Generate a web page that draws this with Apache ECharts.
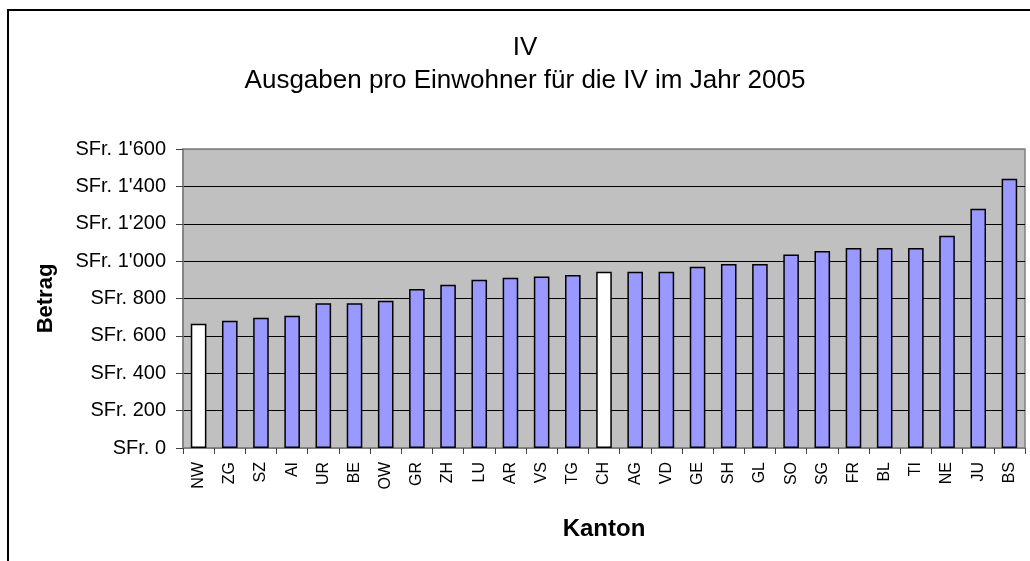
<!DOCTYPE html>
<html lang="de">
<head>
  <meta charset="UTF-8" />
  <title>IV Ausgaben pro Einwohner 2005</title>
  <script src="https://cdn.jsdelivr.net/npm/echarts@6/dist/echarts.min.js"></script>
  <style>
    html, body { margin: 0; padding: 0; background: #ffffff; }
    #main { width: 1030px; height: 561px; }
  </style>
</head>
<body>
  <div id="main"></div>
  <script>
    // Kantone, sortiert nach Ausgaben
    const cantons = ['NW', 'ZG', 'SZ', 'AI', 'UR', 'BE', 'OW', 'GR', 'ZH', 'LU', 'AR', 'VS', 'TG', 'CH',
      'AG', 'VD', 'GE', 'SH', 'GL', 'SO', 'SG', 'FR', 'BL', 'TI', 'NE', 'JU', 'BS'];
    const spending = [665, 681, 697, 708, 774, 774, 788, 851, 874, 900, 911, 918, 926, 943,
      943, 943, 970, 984, 984, 1036, 1054, 1070, 1070, 1070, 1136, 1280, 1441];
    // weiss hervorgehobene Balken
    const highlighted = ['NW', 'CH'];
    const yTicks = [0, 200, 400, 600, 800, 1000, 1200, 1400, 1600];

    const font = '"Liberation Sans", Arial, sans-serif';

    function fmtSFr(v) {
      if (v >= 1000) {
        return "SFr. " + Math.floor(v / 1000) + "'" + String(v % 1000).padStart(3, '0');
      }
      return 'SFr. ' + v;
    }

    const chart = echarts.init(document.getElementById('main'));

    chart.setOption({
      backgroundColor: '#ffffff',
      animation: false,
      textStyle: { fontFamily: font },
      graphic: [{
        type: 'rect',
        shape: { x: 8, y: 10, width: 1030, height: 600 },
        style: { fill: 'none', stroke: '#000000', lineWidth: 2 },
        silent: true
      }],
      title: [{
        text: 'IV',
        left: 520,
        top: 30,
        textAlign: 'center',
        textStyle: { fontSize: 26, fontWeight: 'normal', color: '#000', fontFamily: font }
      }, {
        text: 'Ausgaben pro Einwohner für die IV im Jahr 2005',
        left: 520,
        top: 63,
        textAlign: 'center',
        textStyle: { fontSize: 26, fontWeight: 'normal', color: '#000', fontFamily: font }
      }],
      grid: {
        left: 183,
        right: 5,
        top: 149,
        bottom: 113,
        show: true,
        backgroundColor: '#c0c0c0',
        borderColor: '#808080',
        borderWidth: 1.5
      },
      xAxis: {
        type: 'category',
        data: cantons,
        name: 'Kanton',
        nameLocation: 'middle',
        nameGap: 69,
        nameTextStyle: { fontSize: 24, fontWeight: 'bold', color: '#000' },
        axisLine: { lineStyle: { color: '#808080', width: 1.5 } },
        axisTick: { show: true, length: 6, lineStyle: { color: '#404040' } },
        axisLabel: { rotate: 90, interval: 0, fontSize: 16, color: '#000', margin: 14 }
      },
      yAxis: {
        type: 'value',
        min: 0,
        max: 1600,
        interval: 200,
        name: 'Betrag',
        nameLocation: 'middle',
        nameGap: 126,
        nameTextStyle: { fontSize: 22, fontWeight: 'bold', color: '#000' },
        axisLine: { show: true, lineStyle: { color: '#808080', width: 1.5 } },
        axisTick: { show: true, length: 7, lineStyle: { color: '#404040' } },
        axisLabel: { fontSize: 20, color: '#000', margin: 17, formatter: fmtSFr },
        splitLine: {
          show: true,
          lineStyle: {
            color: yTicks.map((t, i) => (i === 0 || i === yTicks.length - 1) ? '#808080' : '#000000'),
            width: 1
          }
        }
      },
      series: [{
        type: 'bar',
        barWidth: '50%',
        data: spending.map((v, i) => ({
          value: v,
          itemStyle: {
            color: highlighted.includes(cantons[i]) ? '#ffffff' : '#9999ff',
            borderColor: '#000000',
            borderWidth: 1.5
          }
        }))
      }]
    });
  </script>
</body>
</html>
